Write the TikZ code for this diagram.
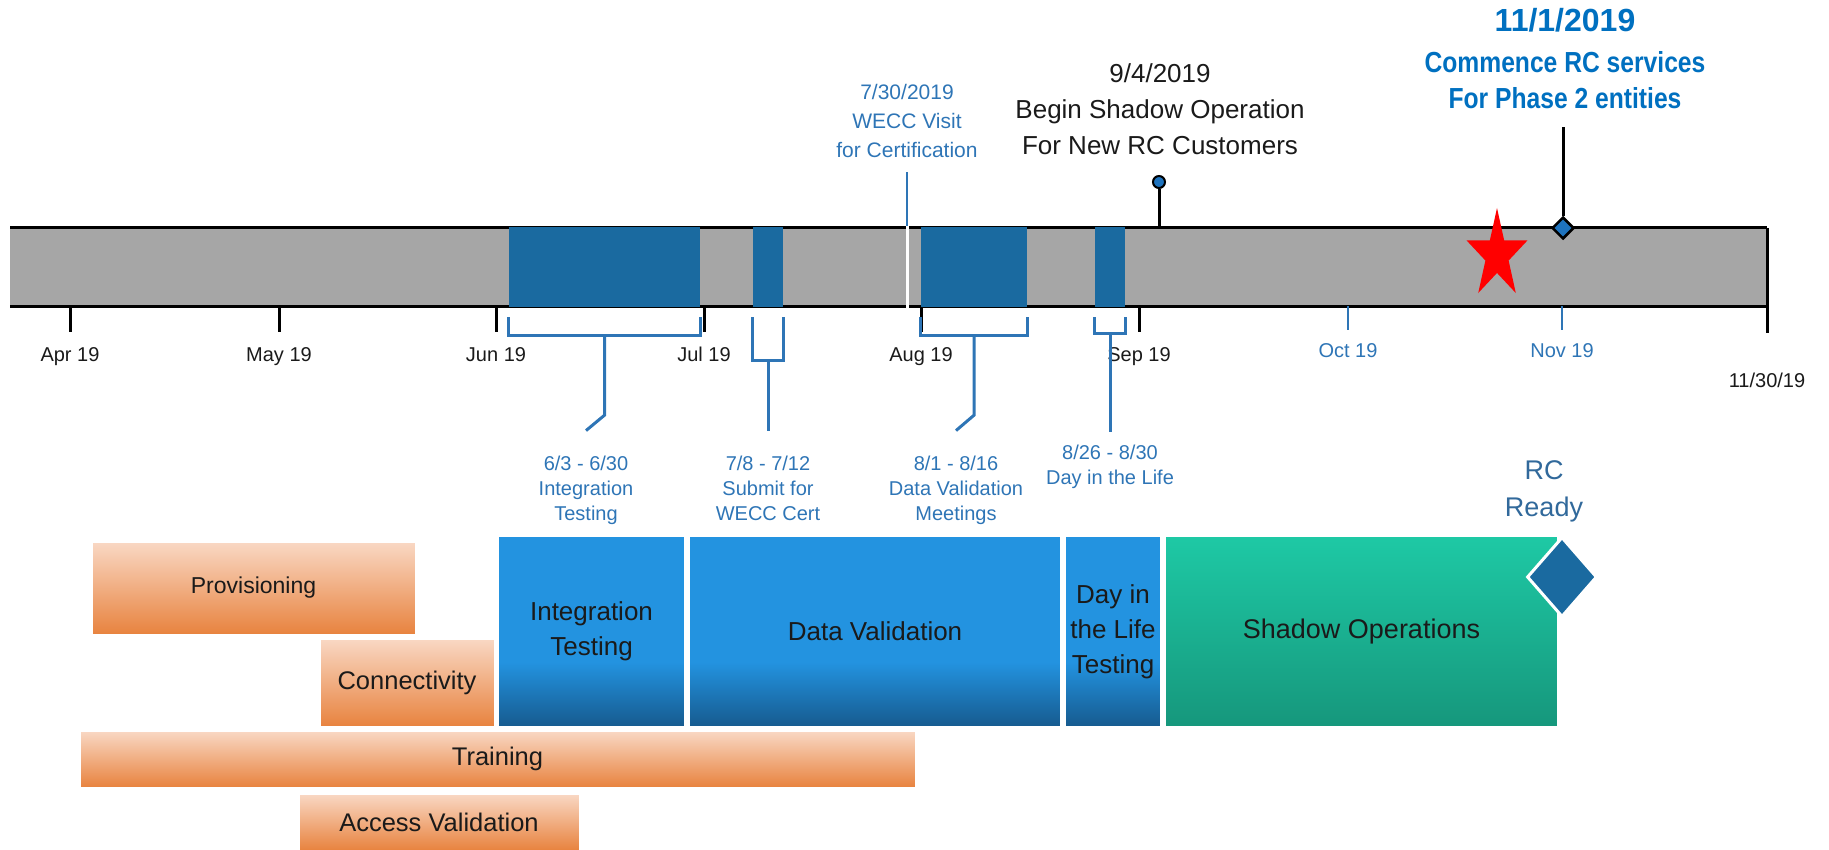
\documentclass[tikz,border=0pt]{standalone}
\usepackage{fontspec}
\setmainfont{Liberation Sans}
\newfontfamily\condfont[FakeStretch=0.85]{Liberation Sans}
\usetikzlibrary{shapes.geometric, positioning}
\definecolor{barGray}{HTML}{A6A6A6}
\definecolor{blkBlue}{HTML}{1A6AA0}
\definecolor{markBlue}{HTML}{1E73BE}
\definecolor{labelBlue}{HTML}{2E75B6}
\definecolor{boldBlue}{HTML}{0070C0}
\definecolor{readyBlue}{HTML}{31699B}
\definecolor{boxBlue}{HTML}{2393E0}
\definecolor{boxBlueDark}{HTML}{165A8E}
\definecolor{greenTop}{HTML}{1EC9A5}
\definecolor{greenBot}{HTML}{16977C}
\definecolor{orangeTop}{HTML}{F9D8C4}
\definecolor{orangeBot}{HTML}{E8833F}
\definecolor{inkBlack}{HTML}{1A1A1A}
\pgfdeclareverticalshading{bluefade}{100bp}{color(0bp)=(boxBlueDark); color(25bp)=(boxBlueDark); color(42bp)=(boxBlue); color(100bp)=(boxBlue)}
\tikzstyle{onbar} = [rectangle, fill=blkBlue, minimum height=80pt, inner sep=0]
\tikzstyle{axisline} = [line width=3pt, black]
\tikzstyle{tick} = [line width=3pt, black]
\tikzstyle{bluetick} = [line width=2.5pt, labelBlue]
\tikzstyle{bracket} = [line width=3pt, labelBlue]
\tikzstyle{month} = [anchor=base, inner sep=0, text=inkBlack, font=\fontsize{20}{24}\selectfont]
\tikzstyle{note} = [anchor=north, inner sep=0, align=center, text=labelBlue, font=\fontsize{20}{25}\selectfont]
\tikzstyle{phase} = [rectangle, anchor=north west, inner sep=0, outer sep=0, draw=white, line width=1.5pt, align=center, text=inkBlack, font=\fontsize{26}{35}\selectfont]
\tikzstyle{testbox} = [phase, shade, shading=bluefade]
\tikzstyle{shadowbox} = [phase, top color=greenTop, bottom color=greenBot]
\tikzstyle{prepbox} = [phase, top color=orangeTop, bottom color=orangeBot, line width=0.8pt, font=\fontsize{25.5}{30}\selectfont]

\begin{document}
\begin{tikzpicture}[x=1pt, y=-1pt]
	\useasboundingbox (0,0) rectangle (1829,850);

	\node (bar) [rectangle, fill=barGray, anchor=north west, minimum width=1757pt, minimum height=78pt, inner sep=0] at (10,228) {};
	\draw[axisline] (bar.north west) -- (bar.north east);
	\draw[axisline] (bar.south west) -- (bar.south east);
	\draw[axisline] (bar.north east) -- ++(0,105);

	\node (apr) [month] at (70,362) {Apr 19};
	\node (may) [month] at (279,362) {May 19};
	\node (jun) [month] at (496,362) {Jun 19};
	\node (jul) [month] at (704,362) {Jul 19};
	\node (aug) [month] at (921,362) {Aug 19};
	\node (sep) [month] at (1139,362) {Sep 19};
	\node (oct) [month, text=labelBlue] at (1348,357) {Oct 19};
	\node (nov) [month, text=labelBlue] at (1562,357) {Nov 19};
	\node (endday) [month] at (1767,387) {11/30/19};

	\draw[tick] (apr |- bar.south) -- ++(0,26);
	\draw[tick] (may |- bar.south) -- ++(0,26);
	\draw[tick] (jun |- bar.south) -- ++(0,26);
	\draw[tick] (jul |- bar.south) -- ++(0,26);
	\draw[tick] (aug |- bar.south) -- ++(0,26);
	\draw[tick] (sep |- bar.south) -- ++(0,26);
	\draw[bluetick] (oct |- bar.south) -- ++(0,24);
	\draw[bluetick] (nov |- bar.south) -- ++(0,24);

	\node (itblk) [onbar, minimum width=191pt] at (604.5,267) {};
	\node (wcblk) [onbar, minimum width=30pt] at (768,267) {};
	\node (dvblk) [onbar, minimum width=106pt] at (974,267) {};
	\node (dlblk) [onbar, minimum width=30pt] at (1110,267) {};

	\coordinate (visit) at (907,226);
	\draw[white, line width=3pt] (visit) -- ++(0,82);
	\draw[bracket, line width=2.5pt] (visit) -- ++(0,-54);
	\node (visitnote) [note, font=\fontsize{21}{29}\selectfont] at (907,84) {7/30/2019\\WECC Visit\\for Certification};

	\node (shadownote) [note, text=inkBlack, font=\fontsize{26}{36}\selectfont] at (1160,63) {9/4/2019\\Begin Shadow Operation\\For New RC Customers};
	\node (shadowpin) [circle, fill=markBlue, draw=black, line width=2pt, minimum size=12pt, inner sep=0] at (1159,182) {};
	\draw[axisline] (shadowpin.south) -- (shadowpin |- bar.north);

	\node (date1101) [anchor=base, inner sep=0, text=boldBlue, font=\fontsize{32}{36}\selectfont\bfseries] at (1565,32) {11/1/2019};
	\node (desc1101) [note, below=18pt of date1101, text=boldBlue, font=\condfont\fontsize{29}{36}\selectfont\bfseries] {Commence RC services\\For Phase 2 entities};
	\coordinate (novtop) at (1563,127);
	\node (novmark) [diamond, fill=markBlue, draw=black, line width=2.5pt, minimum width=22pt, minimum height=22pt, inner sep=0] at (1563,228) {};
	\draw[axisline] (novmark.north) -- (novtop);

	\node (star) [star, star points=5, star point ratio=2.618, fill=red, inner sep=0, minimum size=94pt, xscale=0.68] at (1497,255) {};

	\node (itnote) [note] at (586,455.6) {6/3 - 6/30\\Integration\\Testing};
	\node (wcnote) [note] at (768,455.6) {7/8 - 7/12\\Submit for\\WECC Cert};
	\node (dvnote) [note] at (956,455.6) {8/1 - 8/16\\Data Validation\\Meetings};
	\node (dlnote) [note] at (1110,444.6) {8/26 - 8/30\\Day in the Life};

	\draw[bracket] ([yshift=-10pt]itblk.south west) -- ++(0,18) -| ([yshift=-10pt]itblk.south east);
	\draw[bracket] ([yshift=-28pt]itblk.south) -- ++(0,80) -- ([yshift=25pt]itnote.north);
	\draw[bracket] ([yshift=-10pt]wcblk.south west) -- ++(0,43) -| ([yshift=-10pt]wcblk.south east);
	\draw[bracket] ([yshift=-53pt]wcblk.south) -- ([yshift=25pt]wcnote.north);
	\draw[bracket] ([yshift=-10pt]dvblk.south west) -- ++(0,18) -| ([yshift=-10pt]dvblk.south east);
	\draw[bracket] ([yshift=-28pt]dvblk.south) -- ++(0,80) -- ([yshift=25pt]dvnote.north);
	\draw[bracket] ([yshift=-10pt]dlblk.south west) -- ++(0,16) -| ([yshift=-10pt]dlblk.south east);
	\draw[bracket] ([yshift=-26pt]dlblk.south) -- ([yshift=13pt]dlnote.north);

	\node (provbox) [prepbox, minimum width=323pt, minimum height=92pt, font=\fontsize{23}{28}\selectfont] at (92,542) {Provisioning};
	\node (connbox) [prepbox, minimum width=174pt, minimum height=87pt] at (320,639) {Connectivity};
	\node (trainbox) [prepbox, minimum width=835pt, minimum height=56pt] at (80,731) {Training};
	\node (accbox) [prepbox, minimum width=280pt, minimum height=56pt] at (299,794) {Access Validation};

	\node (itbox) [testbox, minimum width=187pt, minimum height=191pt] at (498,536) {Integration\\Testing};
	\node (dvbox) [testbox, right=4pt of itbox, minimum width=372pt, minimum height=191pt] {Data Validation};
	\node (dlbox) [testbox, right=4pt of dvbox, minimum width=96pt, minimum height=191pt] {Day in\\the Life\\Testing};
	\node (shbox) [shadowbox, right=4pt of dlbox, minimum width=393pt, minimum height=191pt, font=\fontsize{27}{35}\selectfont] {Shadow Operations};
	\node (rcready) [diamond, fill=blkBlue, draw=white, line width=3pt, minimum width=70pt, minimum height=80pt, inner sep=0] at ([xshift=4pt,yshift=-41pt]shbox.north east) {};
	\node (rclabel) [note, text=readyBlue, font=\fontsize{27}{37}\selectfont] at (1544,460.6) {RC\\Ready};
\end{tikzpicture}
\end{document}
